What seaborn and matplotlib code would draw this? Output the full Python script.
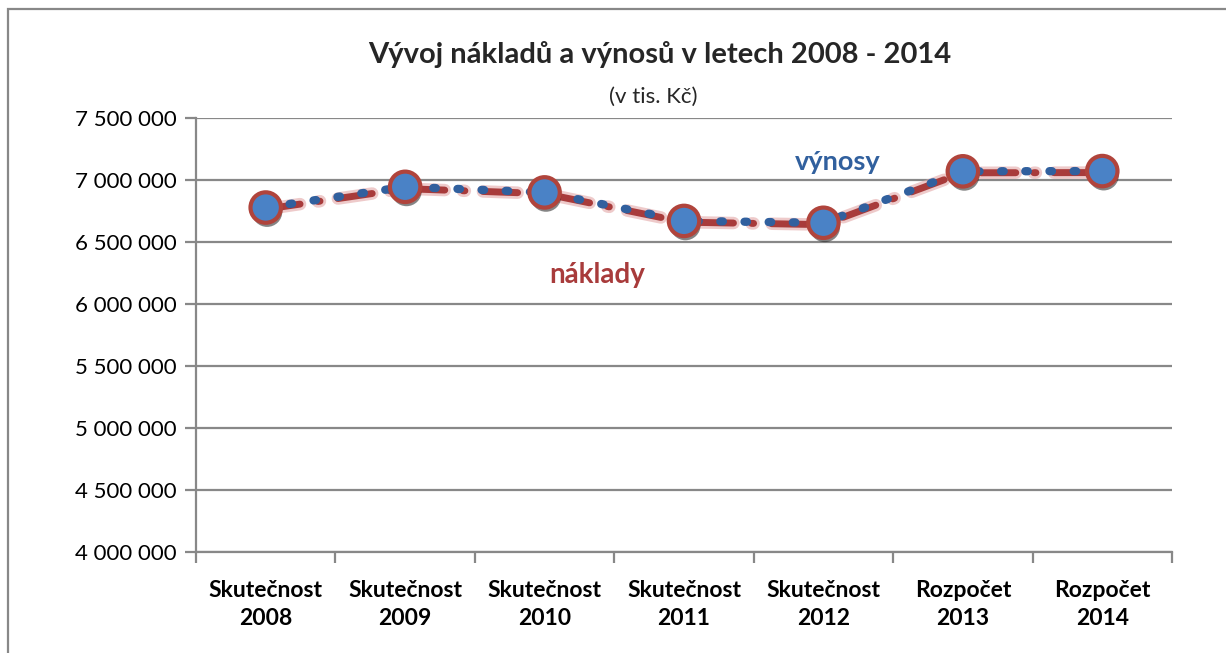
import numpy as np
import pandas as pd
import matplotlib
matplotlib.use("Agg")
import matplotlib.pyplot as plt
import matplotlib.patheffects as pe
from matplotlib.patches import Rectangle
from matplotlib.ticker import FuncFormatter, FixedLocator
import seaborn as sns

categories = ["Skutečnost\n2008", "Skutečnost\n2009", "Skutečnost\n2010", "Skutečnost\n2011",
              "Skutečnost\n2012", "Rozpočet\n2013", "Rozpočet\n2014"]
vynosy = [6778000, 6945000, 6900000, 6670000, 6655000, 7070000, 7072000]
naklady = [6765000, 6930000, 6890000, 6660000, 6640000, 7058000, 7060000]
y_ticks = [4000000, 4500000, 5000000, 5500000, 6000000, 6500000, 7000000, 7500000]

df = pd.DataFrame({"x": np.arange(len(categories)), "vynosy": vynosy, "naklady": naklady})

sns.set_theme(style="white")
plt.rcParams["font.family"] = ["Lato", "DejaVu Sans"]

fig = plt.figure(figsize=(12.26, 6.53), dpi=100)
ax = fig.add_axes([196 / 1226, 1 - 552 / 653, (1172 - 196) / 1226, (552 - 118) / 653])

blue = "#31609e"
red = "#a83b3b"

# náklady: dash-dot with pale glow
sns.lineplot(data=df, x="x", y="naklady", ax=ax, color=red, linewidth=5, zorder=3,
             path_effects=[pe.Stroke(linewidth=9, foreground="#e3a8a8", alpha=0.6), pe.Normal()])
ax.lines[-1].set_dashes([5.0, 2.6, 0.3, 2.6])
ax.lines[-1].set_dash_capstyle("round")

# výnosy: round dotted
sns.lineplot(data=df, x="x", y="vynosy", ax=ax, color=blue, linewidth=6, zorder=4)
ax.lines[-1].set_dashes([0.3, 2.6])
ax.lines[-1].set_dash_capstyle("round")

# markers with shadow
sns.scatterplot(data=df, x="x", y="vynosy", ax=ax, s=480, color="#4a82c6",
                edgecolor="#b0443c", linewidth=3, zorder=5,
                path_effects=[pe.SimplePatchShadow(offset=(1, -3), shadow_rgbFace="#222222", alpha=0.55),
                              pe.Normal()])

ax.set_xlim(-0.5, len(categories) - 0.5)
ax.set_ylim(4000000, 7500000)
ax.set_yticks(y_ticks)
ax.yaxis.set_major_formatter(FuncFormatter(lambda v, p: f"{int(v):,}".replace(",", " ")))
ax.set_xticks(df["x"])
ax.set_xticklabels(categories, fontsize=16.5, fontweight="bold", color="black", linespacing=1.45)
ax.xaxis.set_minor_locator(FixedLocator(np.arange(-0.5, len(categories), 1.0)))
ax.tick_params(axis="x", which="major", length=0, pad=20)
ax.tick_params(axis="x", which="minor", length=8, width=1.6, color="#888888", bottom=True)
ax.tick_params(axis="y", which="major", length=8, width=1.6, color="#888888", left=True,
               labelsize=16, labelcolor="black", pad=6)
ax.set_xlabel("")
ax.set_ylabel("")

ax.grid(axis="y", color="#888888", linewidth=1.6)
ax.grid(axis="x", visible=False)
for s in ["top", "right"]:
    ax.spines[s].set_visible(False)
for s in ["left", "bottom"]:
    ax.spines[s].set_color("#888888")
    ax.spines[s].set_linewidth(1.6)

ax.text(4.1, 7149000, "výnosy", color=blue, fontsize=19.5, fontweight="bold", ha="center", va="center")
ax.text(2.38, 6230000, "náklady", color=red, fontsize=20, fontweight="bold", ha="center", va="center")

fig.text(0.538, 1 - 55 / 653, "Vývoj nákladů a výnosů v letech 2008 - 2014", fontsize=21,
         fontweight="bold", ha="center", va="center")
fig.text(0.533, 1 - 97 / 653, "(v tis. Kč)", fontsize=16, ha="center", va="center")

fig.patches.append(Rectangle((8 / 1226, -0.1), 1.2, 1 - 9 / 653 + 0.1, transform=fig.transFigure,
                             fill=False, edgecolor="#888888", linewidth=1.6))

fig.savefig("out.png", dpi=100)
